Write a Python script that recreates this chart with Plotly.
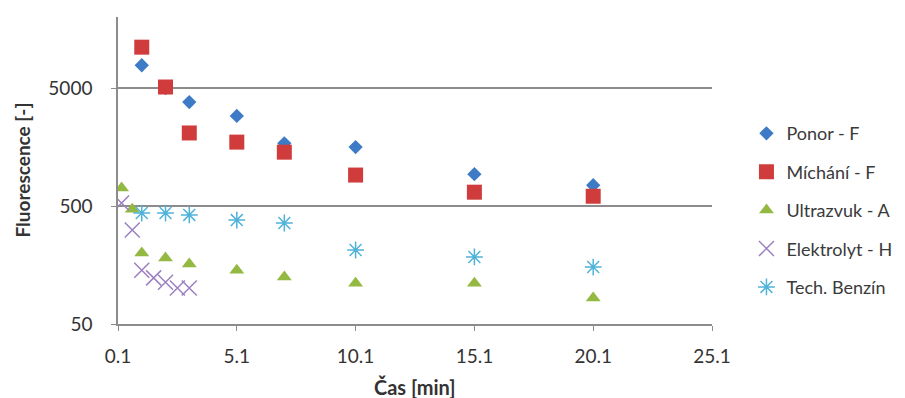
import plotly.graph_objects as go

# ---- data ----
ponor_x = [1.1, 2.1, 3.1, 5.1, 7.1, 10.1, 15.1, 20.1]
ponor_y = [7800, 5000, 3800, 2900, 1700, 1580, 930, 750]

michani_x = [1.1, 2.1, 3.1, 5.1, 7.1, 10.1, 15.1, 20.1]
michani_y = [11100, 5100, 2080, 1740, 1430, 915, 655, 605]

ultrazvuk_x = [0.25, 0.7, 1.1, 2.1, 3.1, 5.1, 7.1, 10.1, 15.1, 20.1]
ultrazvuk_y = [710, 470, 200, 181, 161, 143, 125, 111, 111, 83]

elektrolyt_x = [0.25, 0.7, 1.1, 1.6, 2.1, 2.6, 3.1]
elektrolyt_y = [530, 313, 143, 123, 113, 101, 101]

benzin_x = [1.1, 2.1, 3.1, 5.1, 7.1, 10.1, 15.1, 20.1]
benzin_y = [436, 436, 420, 380, 359, 212, 185, 152]

y_ticks = [50, 500, 5000]
y_tick_labels = ["50", "500", "5000"]
x_ticks = [0.1, 5.1, 10.1, 15.1, 20.1, 25.1]
x_tick_labels = ["0.1", "5.1", "10.1", "15.1", "20.1", "25.1"]

FONT = "Lato, 'Open Sans', sans-serif"

fig = go.Figure()

fig.add_trace(go.Scatter(
    x=ponor_x, y=ponor_y, mode="markers", name="Ponor - F", legendgroup="a",
    marker=dict(symbol="diamond", size=11, color="#3e7bc6")))
fig.add_trace(go.Scatter(
    x=michani_x, y=michani_y, mode="markers", name="Míchání - F", legendgroup="b",
    marker=dict(symbol="square", size=15, color="#d03c3c")))
fig.add_trace(go.Scatter(
    x=ultrazvuk_x, y=ultrazvuk_y, mode="markers", name="Ultrazvuk - A", legendgroup="c",
    marker=dict(symbol="triangle-up", size=13, color="#94b943")))
fig.add_trace(go.Scatter(
    x=elektrolyt_x, y=elektrolyt_y, mode="markers", name="Elektrolyt - H", legendgroup="d",
    marker=dict(symbol="x-thin-open", size=15, color="#9c80c2",
                line=dict(width=1.5, color="#9c80c2"))))
fig.add_trace(go.Scatter(
    x=benzin_x, y=benzin_y, mode="markers", name="Tech. Benzín", legendgroup="e",
    marker=dict(symbol="asterisk-open", size=14, color="#4fb3d9",
                line=dict(width=1.5, color="#4fb3d9"))))

# the page body adds an 8px offset, so the figure is 8px smaller than the window
fig.update_layout(
    width=897, height=390,
    margin=dict(l=110, r=193, t=9, b=74, autoexpand=False),
    paper_bgcolor="white", plot_bgcolor="white",
    font=dict(family=FONT, size=19, color="#333333"),
    showlegend=True,
    legend=dict(x=1.058, xanchor="left", y=0.371, yanchor="middle",
                font=dict(family=FONT, size=18, color="#3a3a3a"),
                tracegroupgap=12, itemwidth=30, bgcolor="rgba(0,0,0,0)"),
    annotations=[
        dict(text="<b>Čas [min]</b>", xref="paper", yref="paper", x=0.5, y=-0.205,
             xanchor="center", yanchor="middle", showarrow=False,
             font=dict(family=FONT, size=20, color="#333333")),
        dict(text="<b>Fluorescence [-]</b>", xref="paper", yref="paper", x=-0.1616, y=0.5,
             xanchor="center", yanchor="middle", showarrow=False, textangle=-90,
             font=dict(family=FONT, size=19, color="#333333")),
    ],
)

fig.update_xaxes(
    range=[0.1, 25.1], tickvals=x_ticks, ticktext=x_tick_labels,
    showgrid=False, zeroline=False,
    showline=True, linecolor="#8c8c8c", linewidth=1.5,
    ticks="outside", ticklen=5, tickcolor="#8c8c8c", ticklabelstandoff=9,
    tickfont=dict(family=FONT, size=19, color="#333333"),
)
fig.update_yaxes(
    type="log", range=[1.69897, 4.30103], tickvals=y_ticks, ticktext=y_tick_labels,
    showgrid=True, gridcolor="#8c8c8c", gridwidth=1.5, zeroline=False,
    showline=True, linecolor="#8c8c8c", linewidth=1.5,
    ticks="outside", ticklen=5, tickcolor="#8c8c8c", ticklabelstandoff=15,
    tickfont=dict(family=FONT, size=19, color="#333333"),
)

fig.write_html("out.html")
